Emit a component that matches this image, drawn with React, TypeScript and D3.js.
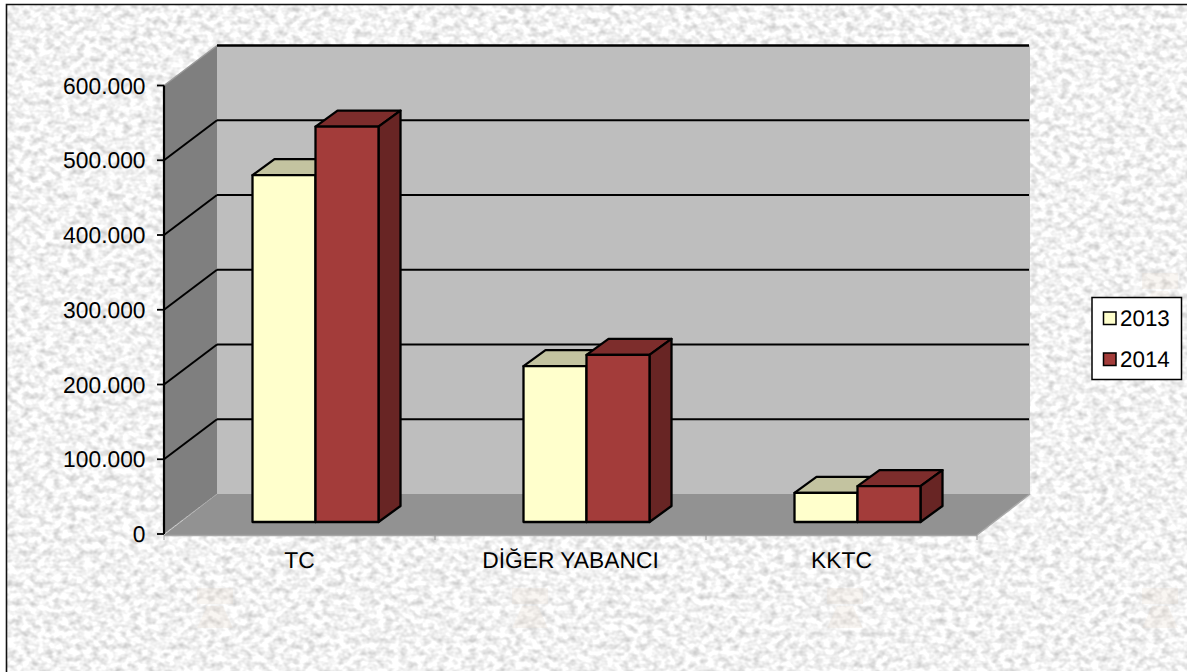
import React from "react";
import * as d3 from "d3";

const categories = ["TC", "DİĞER YABANCI", "KKTC"];
const seriesNames = ["2013", "2014"];
const values2013 = [464000, 208500, 39000];
const values2014 = [529000, 223500, 48000];
const yTicks = [0, 100000, 200000, 300000, 400000, 500000, 600000];
const watermarks = [[215, 610], [530, 610], [845, 610], [1160, 610], [1160, 295]];

const WIDTH = 1187, HEIGHT = 672;
const FONT = "'Liberation Sans', Arial, sans-serif";
const FS = 22.8;
const fills = ["#ffffcc", "#a33c3a"];
const tops = ["#c3c3a0", "#7d2d2c"];
const sides = ["#c3c3a0", "#682524"];

const x0 = d3.scaleBand<string>().domain(categories).range([164, 977]);
const x1 = d3.scaleBand<string>().domain(seriesNames).range([-63, 63]);
const y = d3.scaleLinear().domain([0, 600000]).range([534, 85.5]);
const fmt = (v: number) => d3.format(",")(v).replace(/,/g, ".");

// depth of the chart box and of a bar, in screen units
const WALL = { dx: 53, dy: -40 };
const BAR = { dx: 22, dy: -16 };
const BAR_FRONT = { dx: 16, dy: -12 };

const pts = (p: number[][]) => p.map((d) => d.join(",")).join(" ");

export default function App() {
  const xL = x0.range()[0], xR = x0.range()[1];
  const y0 = y(0), yT = y(600000);
  return (
    <svg
      width={WIDTH}
      height={HEIGHT}
      style={{ position: "absolute", left: 0, top: 0, display: "block" }}
      fontFamily={FONT}
      textRendering="geometricPrecision"
    >
      <defs>
        <filter id="paper" x="0" y="0" width="100%" height="100%" colorInterpolationFilters="sRGB">
          <feTurbulence type="fractalNoise" baseFrequency="0.13 0.16" numOctaves={2} seed={7} />
          <feColorMatrix
            type="matrix"
            values="1 0 0 0 0  1 0 0 0 0  1 0 0 0 0  0 0 0 0 1"
          />
          <feComponentTransfer>
            <feFuncR type="linear" slope={0.4} intercept={0.75} />
            <feFuncG type="linear" slope={0.4} intercept={0.75} />
            <feFuncB type="linear" slope={0.4} intercept={0.75} />
          </feComponentTransfer>
        </filter>
      </defs>
      <rect width={WIDTH} height={HEIGHT} fill="#ffffff" />
      <rect x={7} y={4} width={WIDTH - 7} height={HEIGHT - 5} fill="#efefef" filter="url(#paper)" />
      {watermarks.map(([wx, wy], i) => (
        <g key={i} opacity={0.22} fill="#e8d8c8">
          <rect x={wx - 18} y={wy - 22} width={36} height={16} />
          <polygon points={pts([[wx - 18, wy + 18], [wx - 8, wy - 4], [wx + 8, wy - 4], [wx + 18, wy + 18]])} />
        </g>
      ))}
      <path d={`M6.5,${HEIGHT}V4.5H${WIDTH}`} fill="none" stroke="#111" strokeWidth={1.6} />

      {/* walls */}
      <polygon
        points={pts([[xL, y0], [xL + WALL.dx, y0 + WALL.dy], [xL + WALL.dx, yT + WALL.dy], [xL, yT]])}
        fill="#7f7f7f"
      />
      <rect x={xL + WALL.dx} y={yT + WALL.dy} width={xR - xL} height={y0 - yT} fill="#bebebe" />
      <polygon
        points={pts([[xL, y0 + 1], [xL + WALL.dx, y0 + WALL.dy], [xR + WALL.dx, y0 + WALL.dy], [xR, y0 + 1]])}
        fill="#929292"
      />
      <line x1={xL} y1={y0 + 1.5} x2={xR} y2={y0 + 1.5} stroke="#a8a8a8" strokeWidth={1.5} />
      <line x1={xR} y1={y0 + 1} x2={xR + WALL.dx} y2={y0 + WALL.dy} stroke="#a8a8a8" strokeWidth={1.5} />
      <line x1={xL} y1={yT} x2={xL + WALL.dx} y2={yT + WALL.dy} stroke="#9a9a9a" strokeWidth={1.5} />
      <line x1={xL} y1={y0} x2={xL + WALL.dx} y2={y0 + WALL.dy} stroke="#aaa" strokeWidth={1} strokeDasharray="2 1" />

      {/* gridlines */}
      {yTicks.filter((t) => t > 0).map((t) => (
        <g key={t} fill="none" stroke="#000" strokeWidth={t === 600000 ? 2.6 : 2}>
          {t < 600000 && <line x1={xL} y1={y(t)} x2={xL + WALL.dx} y2={y(t) + WALL.dy} />}
          <line x1={xL + WALL.dx} y1={y(t) + WALL.dy} x2={xR + WALL.dx - 1} y2={y(t) + WALL.dy} />
        </g>
      ))}

      {/* axes */}
      <line x1={xL} y1={yT} x2={xL} y2={y0} stroke="#000" strokeWidth={2.2} />
      {yTicks.map((t) => (
        <g key={t}>
          <line x1={xL - 7} y1={y(t)} x2={xL} y2={y(t)} stroke="#000" strokeWidth={1.8} />
          <text x={145.5} y={y(t) + 8} fontSize={FS} textAnchor="end" fill="#000">
            {fmt(t)}
          </text>
        </g>
      ))}
      {[...categories.map((c) => x0(c)!), xR].map((px, i) => (
        <line key={i} x1={px} y1={y0 + 1} x2={px} y2={y0 + 6} stroke="#a0a0a0" strokeWidth={1} />
      ))}
      {categories.map((c) => (
        <text key={c} x={x0(c)! + x0.bandwidth() / 2} y={568} fontSize={FS} textAnchor="middle" fill="#000">
          {c}
        </text>
      ))}

      {/* bars */}
      {categories.map((c, ci) =>
        [values2013[ci], values2014[ci]].map((v, si) => {
          const name = seriesNames[si];
          const left = x0(c)! + x0.bandwidth() / 2 + BAR_FRONT.dx + x1(name)!;
          const right = left + x1.bandwidth();
          const base = y(0) + BAR_FRONT.dy;
          const top = y(v) + BAR_FRONT.dy;
          return (
            <g key={name + c} stroke="#000" strokeWidth={2.3} strokeLinejoin="round">
              <polygon
                points={pts([[left, top], [left + BAR.dx, top + BAR.dy], [right + BAR.dx, top + BAR.dy], [right, top]])}
                fill={tops[si]}
              />
              <polygon
                points={pts([[right, base], [right + BAR.dx, base + BAR.dy], [right + BAR.dx, top + BAR.dy], [right, top]])}
                fill={sides[si]}
              />
              <rect x={left} y={top} width={right - left} height={base - top} fill={fills[si]} />
            </g>
          );
        })
      )}

      {/* legend */}
      <rect x={1092} y={297.5} width={89.5} height={82} fill="#fff" stroke="#000" strokeWidth={1.5} />
      {seriesNames.map((s, i) => {
        const rowY = 318 + i * 41;
        return (
          <g key={s}>
            <rect x={1103.5} y={rowY - 6} width={12.5} height={12.5} fill={fills[i]} stroke="#000" strokeWidth={1.5} />
            <text x={1120} y={rowY + 8} fontSize={22.4} fill="#000">
              {s}
            </text>
          </g>
        );
      })}
    </svg>
  );
}
